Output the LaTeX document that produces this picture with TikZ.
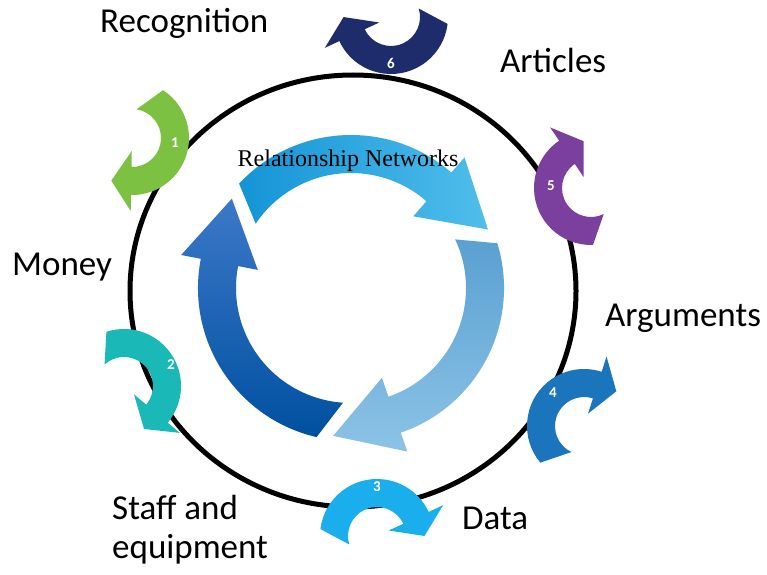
\documentclass[tikz,border=0pt]{standalone}
\usepackage{fontspec}
\setmainfont{Carlito}
\newfontfamily\rnserif{Liberation Serif}
\usetikzlibrary{calc}
\definecolor{cgreen}{RGB}{125,193,66}
\definecolor{cteal}{RGB}{27,184,184}
\definecolor{ccyan}{RGB}{26,174,236}
\definecolor{cblue}{RGB}{26,117,188}
\definecolor{cpurple}{RGB}{123,63,158}
\definecolor{cnavy}{RGB}{31,44,107}
\definecolor{topA}{RGB}{20,148,214}
\definecolor{topB}{RGB}{80,190,235}
\definecolor{rightA}{RGB}{90,160,210}
\definecolor{rightB}{RGB}{140,195,230}
\definecolor{leftA}{RGB}{0,80,160}
\definecolor{leftB}{RGB}{60,120,200}
\newcommand{\bigarr}[4]{%
  \pgfmathsetmacro{\bgB}{#3}\pgfmathsetmacro{\bgT}{#3-90}%
  \path[#4] ($(C)+(#1:153)$) arc[start angle=#1, end angle=\bgB, radius=153]
    -- ($(C)+(\bgB:173)$) -- ($(C)+(\bgB:134)+(\bgT:65)$) -- ($(C)+(\bgB:95)$)
    -- ($(C)+(\bgB:115)$) arc[start angle=\bgB, end angle=#2, radius=115] -- cycle;}
\newcommand{\smallarr}[4]{%
  \pgfmathsetmacro{\smB}{#4}\pgfmathsetmacro{\smT}{#4-90}%
  \pgfmathsetmacro{\smAo}{#4+148}\pgfmathsetmacro{\smAi}{#4+172}%
  \coordinate (sc) at (#2,574-#3);
  \fill[#1] ($(sc)+(\smAo:57)$) arc[start angle=\smAo, end angle=\smB, radius=57]
    -- ($(sc)+(\smB:73)$) -- ($(sc)+(\smB:43)+(\smT:20)$) -- ($(sc)+(\smB:13)$)
    -- ($(sc)+(\smB:29)$) arc[start angle=\smB, end angle=\smAi, radius=29] -- cycle;}
\tikzset{lbl/.style={anchor=base west, inner sep=0pt, font=\fontsize{35}{40}\selectfont},
  num/.style={text=white, inner sep=0pt, font=\fontsize{15}{16}\selectfont\bfseries}}
\begin{document}
\begin{tikzpicture}[x=1pt,y=1pt]
\useasboundingbox (0,0) rectangle (767,574);
\fill[white] (0,0) rectangle (767,574);
\draw[line width=5pt] (353,283) ellipse [x radius=223, y radius=216];
\coordinate (C) at (351,286);
\bigarr{137}{146}{49}{left color=topA, right color=topB}
\bigarr{17}{25}{-71}{top color=rightA, bottom color=rightB}
\bigarr{-103}{-94}{-191}{top color=leftB, bottom color=leftA}
\smallarr{cgreen}{132}{138}{-91}
\smallarr{cteal}{124}{386}{-40}
\smallarr{ccyan}{377}{536}{25}
\smallarr{cblue}{584}{426}{72}
\smallarr{cpurple}{591}{188}{124}
\smallarr{cnavy}{391}{17}{-155}
\node[num] (n1) at (175,574-143) {1};
\node[num] (n2) at (171,574-365) {2};
\node[num] (n3) at (377,574-487) {3};
\node[num] (n4) at (553,574-393) {4};
\node[num] (n5) at (551,574-186) {5};
\node[num] (n6) at (391,574-63) {6};
\node[lbl] (rec) at (100,541) {Recognition};
\node[lbl] (art) at (500,501) {Articles};
\node[lbl] (mon) at (12,299) {Money};
\node[lbl] (arg) at (605,248) {Arguments};
\node[lbl] (staff) at (112,55) {Staff and};
\node[lbl] (equip) at (112,16) {equipment};
\node[lbl] (data) at (462,45) {Data};
\node[anchor=base, inner sep=0pt, font=\rnserif\fontsize{24}{27}\selectfont] (rn) at (348,408) {Relationship Networks};
\end{tikzpicture}
\end{document}
